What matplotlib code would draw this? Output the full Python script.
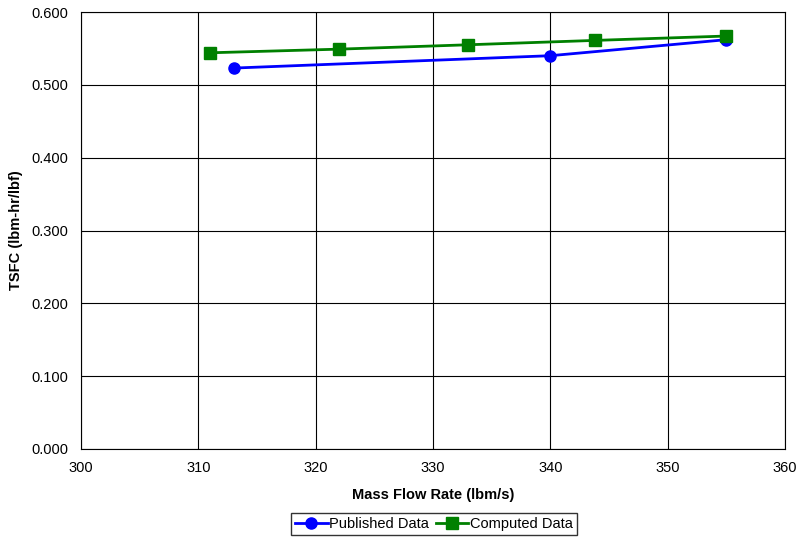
import matplotlib
matplotlib.use("Agg")
import matplotlib.pyplot as plt

plt.rcParams['font.family'] = ['Liberation Sans', 'DejaVu Sans']

pub_x = [313, 340, 355]
pub_y = [0.523, 0.540, 0.562]
comp_x = [311, 322, 333, 343.8, 355]
comp_y = [0.544, 0.549, 0.555, 0.561, 0.567]

fig = plt.figure(figsize=(8, 5.4), dpi=100)
ax = fig.add_axes([81 / 800, 1 - 449 / 540, (785 - 81) / 800, (449 - 12) / 540])

ax.plot(pub_x, pub_y, color='#0000FF', marker='o', markersize=8, linewidth=2, label='Published Data')
ax.plot(comp_x, comp_y, color='#008000', marker='s', markersize=8, linewidth=2, label='Computed Data')

ax.set_xlim(300, 360)
ax.set_ylim(0, 0.6)
ax.set_xticks(range(300, 361, 10))
ax.set_yticks([i / 10 for i in range(7)])
ax.set_yticklabels(['%.3f' % (i / 10) for i in range(7)])
ax.tick_params(labelsize=10.5, length=0, pad=9)
ax.grid(True, color='black', linewidth=0.8)
for s in ax.spines.values():
    s.set_color('black')

ax.set_xlabel('Mass Flow Rate (lbm/s)', fontsize=10.5, fontweight='bold', labelpad=9)
ax.set_ylabel('TSFC (lbm-hr/lbf)', fontsize=10.5, fontweight='bold', labelpad=6)

fig.legend(loc='center', bbox_to_anchor=(434 / 800, 1 - 524 / 540), ncol=2, fontsize=10.5,
           frameon=True, fancybox=False, edgecolor='black', handlelength=2.2,
           handletextpad=0.1, columnspacing=0.5, borderpad=0.3)

fig.savefig('out.png', dpi=100)
